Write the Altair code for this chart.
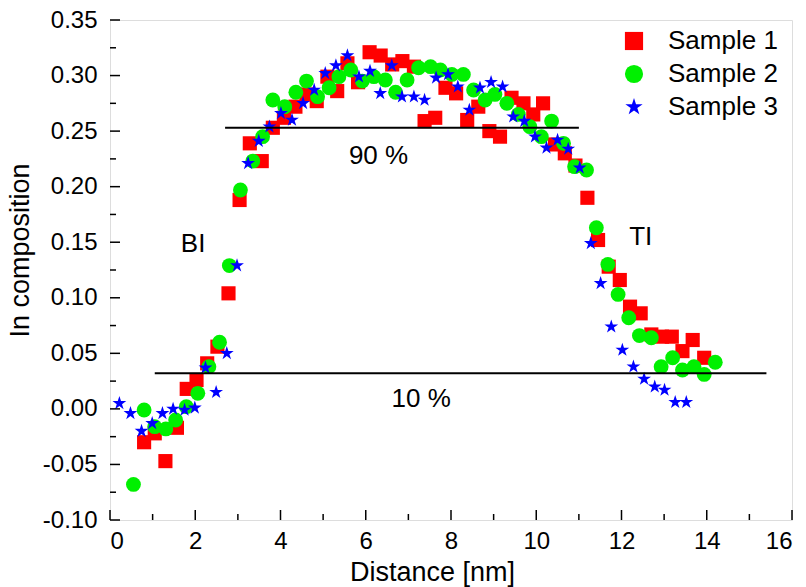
import altair as alt
import pandas as pd

# ---- data ----
s1_x = [0.80,1.05,1.30,1.57,1.80,2.03,2.28,2.52,2.78,3.04,3.28,3.56,3.82,4.08,4.35,4.61,4.85,5.10,5.33,
        5.57,5.82,6.09,6.35,6.62,6.86,7.13,7.38,7.63,7.87,8.12,8.38,8.64,8.90,9.15,9.42,9.70,9.93,10.16,10.44,
        10.67,10.92,11.20,11.45,11.70,11.96,12.20,12.45,12.70,12.95,13.18,13.43,13.67,13.94]
s1_y = [-0.030,-0.022,-0.047,-0.017,0.018,0.026,0.041,0.056,0.104,0.188,0.239,0.223,0.253,0.262,0.272,0.283,0.277,0.299,0.286,
        0.311,0.294,0.321,0.318,0.310,0.313,0.308,0.259,0.262,0.289,0.284,0.260,0.272,0.250,0.245,0.280,0.275,0.265,0.275,0.238,
        0.230,0.219,0.190,0.152,0.128,0.116,0.092,0.086,0.067,0.065,0.065,0.052,0.062,0.046]

s2_x = [0.55,0.80,1.05,1.31,1.54,1.79,2.06,2.32,2.57,2.80,3.06,3.35,3.58,3.82,4.10,4.36,4.61,4.87,5.14,5.37,
        5.65,5.92,6.19,6.46,6.70,6.97,7.24,7.52,7.75,8.02,8.29,8.53,8.80,9.03,9.31,9.58,9.85,10.12,10.36,10.64,
        10.90,11.18,11.41,11.68,11.92,12.17,12.42,12.70,12.93,13.20,13.43,13.70,13.94,14.20]
s2_y = [-0.068,-0.001,-0.016,-0.018,-0.010,0.002,0.014,0.038,0.060,0.129,0.197,0.223,0.245,0.278,0.272,0.285,0.295,0.281,0.289,0.299,
        0.305,0.295,0.299,0.296,0.285,0.296,0.307,0.308,0.305,0.301,0.301,0.287,0.278,0.283,0.275,0.265,0.254,0.245,0.259,0.239,
        0.218,0.215,0.163,0.130,0.103,0.082,0.066,0.064,0.038,0.046,0.035,0.038,0.031,0.042]

s3_x = [0.22,0.48,0.74,0.99,1.23,1.48,1.75,1.99,2.24,2.49,2.74,2.98,3.24,3.49,3.74,4.01,4.27,4.53,4.79,5.05,
        5.30,5.57,5.84,6.10,6.34,6.61,6.85,7.13,7.38,7.65,7.93,8.16,8.43,8.68,8.94,9.21,9.46,9.72,9.97,10.24,
        10.50,10.75,11.02,11.28,11.51,11.76,12.02,12.28,12.53,12.78,13.01,13.26,13.52]
s3_y = [0.005,-0.004,-0.020,-0.013,-0.004,0.000,-0.001,0.001,0.037,0.015,0.050,0.129,0.221,0.241,0.254,0.266,0.260,0.275,0.287,0.302,
        0.309,0.318,0.299,0.304,0.284,0.309,0.281,0.281,0.278,0.298,0.301,0.290,0.269,0.289,0.294,0.290,0.263,0.259,0.245,0.235,
        0.242,0.234,0.217,0.149,0.113,0.074,0.053,0.038,0.027,0.020,0.017,0.006,0.006]

series_names = ["Sample 1", "Sample 2", "Sample 3"]
series_colors = ["#ff0000", "#00f000", "#0000ff"]
STAR = ("M0,-1L0.2245,-0.309L0.951,-0.309L0.363,0.118L0.588,0.809L0,0.382"
        "L-0.588,0.809L-0.363,0.118L-0.951,-0.309L-0.2245,-0.309Z")
series_shapes = ["square", "circle", STAR]

# reference lines (90 % and 10 %)
ref_x1 = [2.7, 1.05]
ref_x2 = [11.0, 15.4]
ref_y = [0.253, 0.032]

# annotations
ann_text = ["90 %", "10 %", "BI", "TI"]
ann_x = [6.3, 7.3, 1.95, 12.45]
ann_y = [0.228, 0.009, 0.148, 0.155]

x_major = [0, 2, 4, 6, 8, 10, 12, 14, 16]
x_minor = [1, 3, 5, 7, 9, 11, 13, 15]
y_major = [-0.10, -0.05, 0.00, 0.05, 0.10, 0.15, 0.20, 0.25, 0.30, 0.35]
y_minor = [-0.075, -0.025, 0.025, 0.075, 0.125, 0.175, 0.225, 0.275, 0.325]

W, H = 682, 500
FONT = "Liberation Sans"

xs = alt.Scale(domain=[0, 16], nice=False, zero=False)
ys = alt.Scale(domain=[-0.10, 0.35], nice=False, zero=False)

color_scale = alt.Scale(domain=series_names, range=series_colors)
shape_scale = alt.Scale(domain=series_names, range=series_shapes)

x_axis = alt.Axis(values=x_major, domain=False, ticks=False, grid=False, labelFontSize=24,
                  labelFont=FONT, labelColor="black", labelPadding=9, title="Distance [nm]",
                  titleFontSize=27, titleFont=FONT, titleFontWeight="normal", titlePadding=6,
                  titleColor="black", orient="bottom", titleX=322)
y_axis = alt.Axis(values=y_major, domain=False, ticks=False, grid=False, labelFontSize=24,
                  labelExpr="replace(format(datum.value, '.2f'), '\u2212', '-')",
                  labelFont=FONT, labelColor="black", labelPadding=13, title="In composition",
                  titleFontSize=27, titleFont=FONT, titleFontWeight="normal", titlePadding=8,
                  titleColor="black", orient="left", titleY=230)

legend = alt.Legend(title=None, orient="none", legendX=511, legendY=8, labelFontSize=26, labelFont=FONT,
                    labelColor="black", symbolSize=330, symbolStrokeWidth=0, rowPadding=7, labelOffset=21,
                    padding=0, symbolOpacity=1)

XE = lambda f: alt.X(f, scale=xs, axis=x_axis)
YE = lambda f: alt.Y(f, scale=ys, axis=y_axis)

def series_layer(i, xv, yv, size):
    df = pd.DataFrame({"d": xv, "v": yv, "series": series_names[i]})
    return alt.Chart(df).mark_point(filled=True, opacity=1, size=size, strokeWidth=0).encode(
        x=XE("d:Q"),
        y=YE("v:Q"),
        color=alt.Color("series:N", scale=color_scale, legend=legend),
        shape=alt.Shape("series:N", scale=shape_scale, legend=legend),
    )

l1 = series_layer(0, s1_x, s1_y, 200)
l2 = series_layer(1, s2_x, s2_y, 220)
l3 = series_layer(2, s3_x, s3_y, 210)

ref_df = pd.DataFrame({"d": ref_x1, "d2": ref_x2, "v": ref_y})
refs = alt.Chart(ref_df).mark_rule(color="black", strokeWidth=2).encode(
    x=XE("d:Q"), x2="d2:Q", y=YE("v:Q"))

ann_df = pd.DataFrame({"t": ann_text, "d": ann_x, "v": ann_y})
ann = alt.Chart(ann_df).mark_text(fontSize=26, font=FONT, color="black").encode(
    x=XE("d:Q"), y=YE("v:Q"), text="t:N")

def yticks(vals, length):
    return alt.Chart(pd.DataFrame({"v": vals})).mark_rule(color="black", strokeWidth=1.5).encode(
        y=YE("v:Q"), x=alt.value(0), x2=alt.value(length))

def xticks(vals, length):
    return alt.Chart(pd.DataFrame({"d": vals})).mark_rule(color="black", strokeWidth=1.5).encode(
        x=XE("d:Q"), y=alt.value(H), y2=alt.value(H - length))

chart = alt.layer(
    l1, l2, l3, refs, ann,
    yticks(y_major, 10), yticks(y_minor, 6), xticks(x_major, 10), xticks(x_minor, 6),
).properties(
    width=W, height=H,
    autosize=alt.AutoSizeParams(type="none"),
    padding={"left": 110, "top": 20, "right": 806 - 110 - W, "bottom": 587 - 20 - H},
).configure_view(stroke="black", strokeWidth=2).configure(background="white")

chart.save("out.html", embed_options={"renderer": "svg", "actions": False})
